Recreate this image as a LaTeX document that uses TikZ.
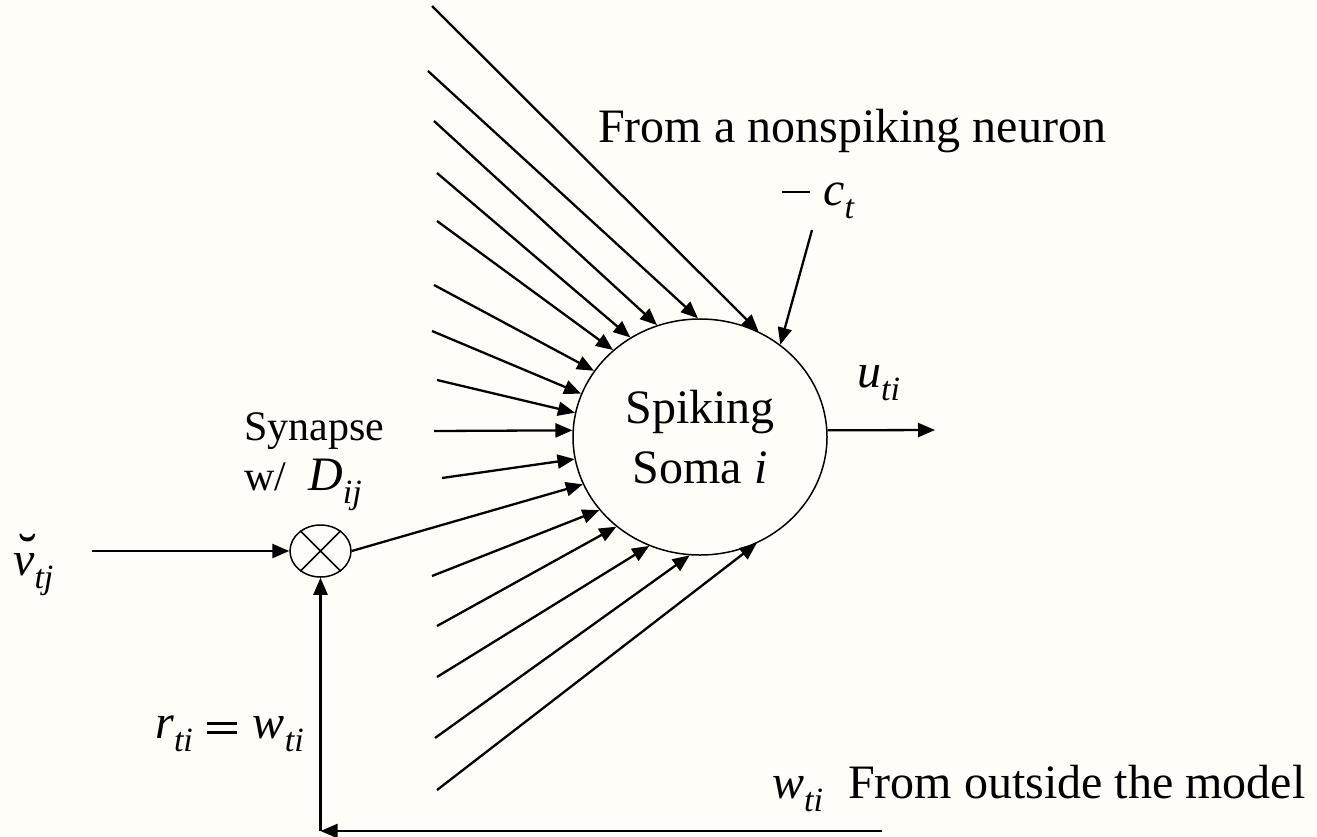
\documentclass[tikz,border=0pt]{standalone}
\usepackage{fontspec}
\setmainfont{Liberation Serif}
\usepackage{tikz}
\usetikzlibrary{arrows.meta,shapes.geometric}
\definecolor{paper}{RGB}{255,253,247}
\newcommand{\sbs}[2]{\textit{#1}\raisebox{-0.28em}{\fontsize{34}{34}\selectfont\textit{#2}}}
\newcommand{\eqbar}{\rlap{\rule[4.5pt]{30pt}{2.3pt}}\rule[13.5pt]{30pt}{2.3pt}}

\begin{document}
\begin{tikzpicture}[x=1pt,y=-1pt,>={Triangle[length=17pt,width=14pt]},
  wire/.style={line width=2.3pt},
  rim/.style={draw,ellipse,line width=1.5pt,inner sep=0pt},
  lbl/.style={inner sep=0pt,anchor=base west,font=\fontsize{48}{58}\selectfont},
  small/.style={inner sep=0pt,anchor=base west,font=\fontsize{42}{50}\selectfont}]
  \fill[paper] (0,0) rectangle (1317,836);
  \useasboundingbox (0,0) rectangle (1317,836);
  \node[rim,minimum width=254pt,minimum height=236pt,align=center,font=\fontsize{48}{60}\selectfont] (soma) at (700,437) {Spiking\\Soma \textit{i}};
  \node[rim,minimum width=61pt,minimum height=52pt] (mult) at (320.5,551) {};
  \draw[line width=1.5pt] (mult.45) -- (mult.225) (mult.135) -- (mult.315);
  \foreach \sx/\sy/\ang [count=\i] in {432/6/61, 428/71/91, 434/121/111, 437/173/125, 437/221/135, 434/285/148, 432/331/160, 437/380/169, 434/431/177, 442/478/190, 432/576/216, 437/626/227, 437/677/245, 435/738/265, 437/790/298} {
    \coordinate (in\i) at (\sx,\sy);
    \draw[wire,->] (in\i) -- (soma.\ang);
  }
  \draw[wire,->] (mult.east) -- (soma.202);
  \coordinate (ctsrc) at (812,230);
  \draw[wire,->] (ctsrc) -- (soma.49);
  \coordinate (out) at (935,430);
  \draw[wire,->] (soma.3) -- (out);
  \coordinate (vsrc) at (92,551);
  \draw[wire,->] (vsrc) -- (mult.west);
  \coordinate (wsrc) at (882,831);
  \coordinate (corner) at (320.5,831);
  \draw[wire,->] (wsrc) -- (corner);
  \draw[wire,->] (corner) -- (mult.south);
  % labels
  \node[lbl] (nonspk) at (598,142) {From a nonspiking neuron};
  \node[lbl] (ct) at (782,205) {\rule[12pt]{28pt}{2.2pt}\hspace{13pt}\sbs{c}{t}};
  \node[lbl] (uti) at (857,387) {\sbs{u}{ti}};
  \node[small] (syn) at (244,440) {Synapse};
  \node[small] (synw) at (244,490) {w/\hspace{22pt}{\fontsize{48}{58}\selectfont\sbs{D}{ij}}};
  \node[lbl] (vtj) at (13,575) {\sbs{\rlap{\hspace{5pt}\raisebox{3pt}{\upshape\fontsize{56}{58}\selectfont\char"02D8}}v}{tj}};
  \node[lbl] (rw) at (155,738) {\sbs{r}{ti}\hspace{14pt}\eqbar\hspace{16pt}\sbs{w}{ti}};
  \node[lbl] (wti) at (772,798) {\sbs{w}{ti}};
  \node[lbl] (outside) at (848,798) {From outside the model};
\end{tikzpicture}
\end{document}
